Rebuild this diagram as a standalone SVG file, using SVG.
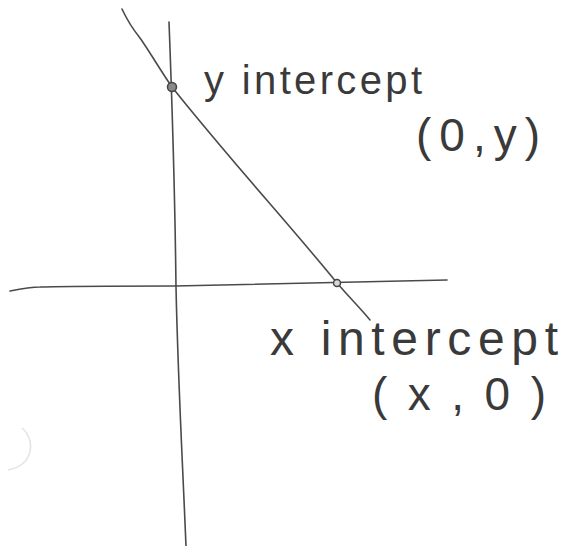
<svg xmlns="http://www.w3.org/2000/svg" width="563" height="546" viewBox="0 0 563 546">
<style>
.ln{fill:none;stroke:#4a4a4a;stroke-width:1.6;stroke-linecap:round;stroke-linejoin:round}
.tx{font-family:"Liberation Sans",Arial,sans-serif;fill:#3a3a3a;font-weight:normal}
</style>
<rect width="563" height="546" fill="#ffffff"/>
<path d="M10,291 C20,289 30,287 40,287 C70,286 110,286 175,286 C250,285 330,282 447,280" class="ln"/>
<path d="M169,22 C172,100 175,200 176,287 C178,380 182,450 186,546" class="ln"/>
<path d="M122,9 C128,22 132,28 140,38 C150,52 160,70 172,87 C230,160 290,225 337,283 C350,298 360,308 370,320" class="ln"/>
<circle cx="172" cy="87" r="4.5" fill="#8a8a8a" stroke="#444" stroke-width="1.5"/>
<circle cx="337" cy="283" r="3.5" fill="#d8d8d8" stroke="#444" stroke-width="1.5"/>
<path d="M22,428 C36,440 34,465 8,470" fill="none" stroke="#e4e4e4" stroke-width="1.5"/>
<text class="tx" x="204" y="94" font-size="40" textLength="218" lengthAdjust="spacing">y intercept</text>
<text class="tx" x="416" y="151" font-size="46" textLength="124" lengthAdjust="spacing">(0,y)</text>
<text class="tx" x="270" y="355" font-size="48" textLength="288" lengthAdjust="spacing">x intercept</text>
<text class="tx" x="372" y="410" font-size="46" textLength="174" lengthAdjust="spacing">(x,0)</text>
</svg>
